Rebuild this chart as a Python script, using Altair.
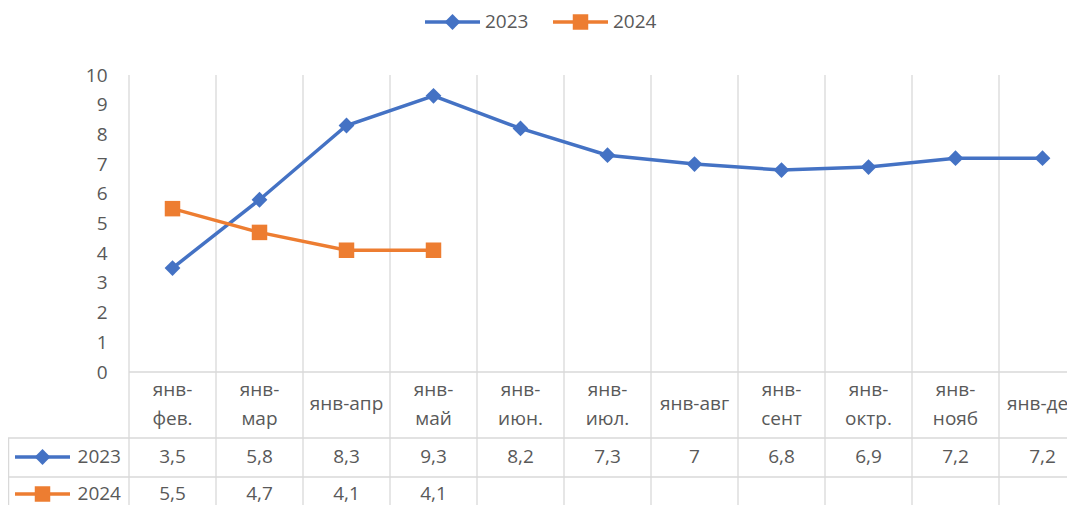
import altair as alt
import pandas as pd

# ---------------- data ----------------
categories = ["янв-\nфев.", "янв-\nмар", "янв-апр", "янв-\nмай", "янв-\nиюн.",
              "янв-\nиюл.", "янв-авг", "янв-\nсент", "янв-\nоктр.", "янв-\nнояб", "янв-дек"]
series_names = ["2023", "2024"]
values_2023 = [3.5, 5.8, 8.3, 9.3, 8.2, 7.3, 7.0, 6.8, 6.9, 7.2, 7.2]
values_2024 = [5.5, 4.7, 4.1, 4.1]
y_ticks = [0, 1, 2, 3, 4, 5, 6, 7, 8, 9, 10]

# ---------------- styles ----------------
BLUE = "#4472C4"
ORANGE = "#ED7D31"
GRID = "#D9D9D9"
TEXT = "#595959"
FONT = "Open Sans"
FS = 19

PLOT_W = 938
PLOT_H = 297
CAT_W = 87
n = len(categories)

cat_df = pd.DataFrame({"cat": categories, "pos": [i + 0.5 for i in range(n)]})


def fmt(v):
    return f"{v:g}".replace(".", ",")


rows = []
for name, vals in zip(series_names, [values_2023, values_2024]):
    for i, v in enumerate(vals):
        rows.append({"series": name, "pos": i + 0.5, "value": v, "label": fmt(v)})
df = pd.DataFrame(rows)
bounds = pd.DataFrame({"b": list(range(n + 1))})

xs = alt.Scale(domain=[0, PLOT_W / CAT_W], nice=False, zero=False)
ys = alt.Scale(domain=[0, 10], nice=False)
yaxis = alt.Axis(values=y_ticks, grid=False, domain=False, ticks=False, title=None,
                 labelFont=FONT, labelFontSize=FS, labelColor=TEXT, labelPadding=22)
color_scale = alt.Scale(domain=series_names, range=[BLUE, ORANGE])
shape_scale = alt.Scale(domain=series_names, range=["diamond", "square"])
size_scale = alt.Scale(domain=series_names, range=[250, 240])

X = alt.X("pos:Q", scale=xs, axis=None)

grid = alt.Chart(bounds).mark_rule(color=GRID, strokeWidth=1.3).encode(
    x=alt.X("b:Q", scale=xs, axis=None), y=alt.value(0), y2=alt.value(460))

base_line = alt.Chart(bounds).transform_filter("datum.b == 0").mark_rule(color=GRID, strokeWidth=1.3)
xaxis_line = base_line.encode(x=alt.value(0), x2=alt.value(PLOT_W + 20), y=alt.value(PLOT_H))
row1_line = base_line.encode(x=alt.value(-121), x2=alt.value(PLOT_W + 20), y=alt.value(363))
row2_line = base_line.encode(x=alt.value(-121), x2=alt.value(PLOT_W + 20), y=alt.value(402))
left_line = base_line.encode(x=alt.value(-120.4), y=alt.value(363), y2=alt.value(460))

lines = alt.Chart(df).mark_line(strokeWidth=3.5).encode(
    x=X,
    y=alt.Y("value:Q", scale=ys, axis=yaxis),
    color=alt.Color("series:N", scale=color_scale, legend=None),
    detail="series:N",
)
points = alt.Chart(df).mark_point(filled=True, opacity=1).encode(
    x=X,
    y=alt.Y("value:Q", scale=ys, axis=yaxis),
    color=alt.Color("series:N", scale=color_scale, legend=None),
    shape=alt.Shape("series:N", scale=shape_scale, legend=None),
    size=alt.Size("series:N", scale=size_scale, legend=None),
)

cat_text_two = alt.Chart(cat_df).transform_filter("indexof(datum.cat, '\\n') >= 0").mark_text(
    font=FONT, fontSize=FS, color=TEXT, lineBreak="\n", lineHeight=29, baseline="middle"
).encode(x=X, y=alt.value(315), text="cat:N")
cat_text_one = alt.Chart(cat_df).transform_filter("indexof(datum.cat, '\\n') < 0").mark_text(
    font=FONT, fontSize=FS, color=TEXT, baseline="middle"
).encode(x=X, y=alt.value(329), text="cat:N")

val_layers = []
for name, yrow in zip(series_names, [382, 419]):
    val_layers.append(
        alt.Chart(df).transform_filter(alt.datum.series == name).mark_text(
            font=FONT, fontSize=FS, color=TEXT, baseline="middle"
        ).encode(x=X, y=alt.value(yrow), text="label:N")
    )


def legend_item(name, color, shape, size, x0, y, text_align, text_x):
    src = alt.Chart(pd.DataFrame({"s": [name]}))
    r = src.mark_rule(color=color, strokeWidth=3.5).encode(
        x=alt.value(x0), x2=alt.value(x0 + 55), y=alt.value(y))
    p = src.mark_point(filled=True, opacity=1, color=color, shape=shape, size=size).encode(
        x=alt.value(x0 + 27.5), y=alt.value(y))
    t = src.mark_text(font=FONT, fontSize=FS, color=TEXT, align=text_align, baseline="middle").encode(
        x=alt.value(text_x), y=alt.value(y), text="s:N")
    return [r, p, t]


legend_layers = []
legend_layers += legend_item("2023", BLUE, "diamond", 250, 296, -53, "left", 356)
legend_layers += legend_item("2024", ORANGE, "square", 240, 424, -53, "left", 484)
legend_layers += legend_item("2023", BLUE, "diamond", 250, -114, 382, "right", -8)
legend_layers += legend_item("2024", ORANGE, "square", 240, -114, 419, "right", -8)

chart = alt.layer(
    grid, xaxis_line, row1_line, row2_line, left_line,
    lines, points, cat_text_two, cat_text_one, *val_layers, *legend_layers
).properties(
    width=PLOT_W, height=PLOT_H,
    autosize=alt.AutoSizeParams(type="none"),
    padding={"left": 121, "top": 67, "right": 0, "bottom": 133},
).configure_view(stroke=None)

chart.save("out.html", embed_options={"renderer": "svg", "actions": False})
